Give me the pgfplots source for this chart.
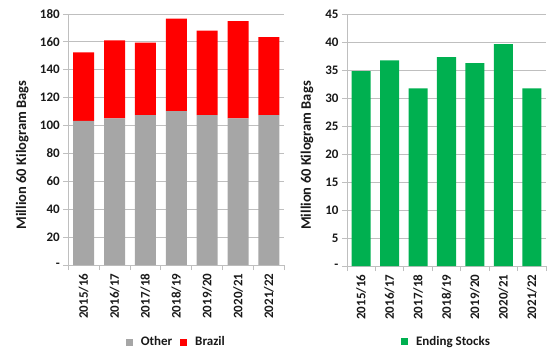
\documentclass[border=0pt]{standalone}
\usepackage{fontspec}
\setmainfont{Carlito}
\usepackage{pgfplots}
\pgfplotsset{compat=1.18}
\definecolor{othergray}{HTML}{A6A6A6}
\definecolor{brred}{HTML}{FF0000}
\definecolor{stgreen}{HTML}{00B050}
\definecolor{gridgray}{HTML}{BFBFBF}
\pgfplotsset{
  sq legend/.style={legend image code/.code={\fill[##1] (0pt,-3.5pt) rectangle (7pt,3.5pt);}},
  excel/.style={
    scale only axis,
    anchor=south west,
    xmin=-0.5, xmax=6.5,
    ymin=0,
    axis x line*=bottom,
    axis y line*=left,
    axis line style={draw=gridgray, line width=0.8pt},
    ymajorgrids,
    grid style={draw=gridgray, line width=0.8pt},
    xtick={0,...,6},
    xticklabels={2015/16,2016/17,2017/18,2018/19,2019/20,2020/21,2021/22},
    minor xtick={-0.5,0.5,...,6.5},
    major x tick style={draw=none},
    minor x tick style={draw=gridgray, line width=0.8pt},
    minor tick length=5pt,
    major tick length=5pt,
    tick align=outside,
    y tick style={draw=gridgray, line width=0.8pt},
    tick label style={font=\bfseries\fontsize{13}{13}\selectfont, text=black!90},
    xticklabel style={rotate=90, anchor=east, xshift=0pt},
    every axis y label/.style={at={(axis description cs:0,0.5)}, rotate=90, anchor=center, font=\bfseries\fontsize{14.5}{14.5}\selectfont, text=black!90},
    legend style={draw=none, font=\bfseries\fontsize{13}{13}\selectfont, text=black!90, column sep=6pt, anchor=center},
    legend cell align=left,
    clip=false,
  }
}
\begin{document}
\begin{tikzpicture}
\path[use as bounding box] (0,0) rectangle (556pt,357pt);
\begin{axis}[excel,
  at={(68.3pt,92pt)}, width=216pt, height=251pt,
  ymax=180, ytick={0,20,...,180},
  yticklabels={-,20,40,60,80,100,120,140,160,180},
  ybar stacked, bar width=0.68,
  ylabel={Million 60 Kilogram Bags},
  ylabel style={xshift=-15.5pt, yshift=46pt},
  legend columns=2,
  legend style={at={(axis description cs:0.5,-0.307)}},
]
\addplot[fill=othergray, draw=none, sq legend] coordinates {(0,103.4) (1,105.2) (2,107.5) (3,110.4) (4,107.5) (5,105.2) (6,107.5)};
\addplot[fill=brred, draw=none, sq legend] coordinates {(0,49.1) (1,55.8) (2,51.9) (3,66.2) (4,60.5) (5,69.7) (6,56.0)};
\legend{Other,Brazil}
\end{axis}
\begin{axis}[excel,
  at={(347pt,91pt)}, width=199pt, height=252pt,
  ymax=45, ytick={0,5,...,45},
  yticklabels={-,5,10,15,20,25,30,35,40,45},
  ybar, bar width=0.67,
  ylabel={Million 60 Kilogram Bags},
  ylabel style={xshift=-15.5pt, yshift=40pt},
  legend style={at={(axis description cs:0.5,-0.30)}},
]
\addplot[fill=stgreen, draw=none, bar shift=0pt, sq legend] coordinates {(0,34.8) (1,36.7) (2,31.7) (3,37.3) (4,36.25) (5,39.6) (6,31.7)};
\legend{Ending Stocks}
\end{axis}
\end{tikzpicture}
\end{document}
